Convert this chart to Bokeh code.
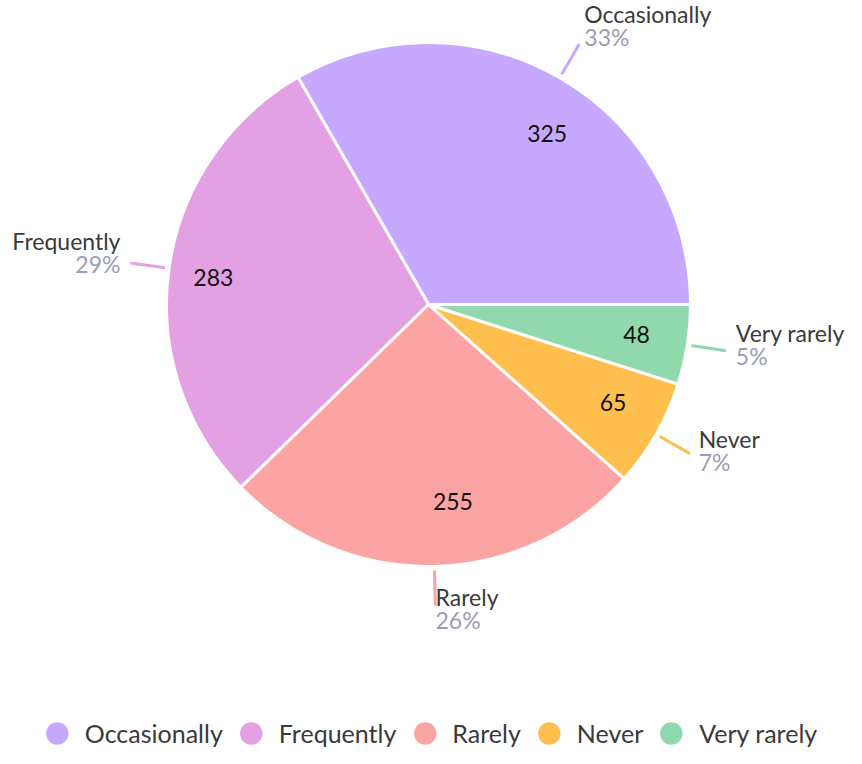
import math
from bokeh.plotting import figure
from bokeh.models import Range1d, ColumnDataSource, Legend, LegendItem
from bokeh.core.properties import value
from bokeh.embed import file_html
from bokeh.resources import INLINE

categories = ["Occasionally", "Frequently", "Rarely", "Never", "Very rarely"]
counts = [325, 283, 255, 65, 48]
colors = ["#C6A9FE", "#E3A0E3", "#FCA3A3", "#FFBF4F", "#90D9AD"]

FONT = "Lato"
NAME_COLOR = "#3a3a3a"
PCT_COLOR = "#9c9cb4"

W, H = 846, 748
p = figure(width=W, height=H, output_backend="svg", toolbar_location=None,
           x_range=Range1d(0, W), y_range=Range1d(-H, 0),
           min_border=0, outline_line_color=None)
p.axis.visible = False
p.grid.visible = False
p.background_fill_color = None
p.border_fill_color = None

cx, cy = 428, -304
R = 262

total = sum(counts)
starts, ends, mids = [], [], []
acc = 0.0
for c in counts:
    a0 = acc / total * 2 * math.pi
    acc += c
    a1 = acc / total * 2 * math.pi
    starts.append(a0)
    ends.append(a1)
    mids.append((a0 + a1) / 2)
pcts = [f"{round(c / total * 100)}%" for c in counts]

src = ColumnDataSource(dict(x=[cx] * len(counts), y=[cy] * len(counts),
                            start=starts, end=ends, color=colors))
p.wedge(x="x", y="y", radius=R, start_angle="start", end_angle="end",
        fill_color="color", line_color="white", line_width=3, source=src)

# leader lines
r0, r1 = R + 4, R + 39
p.segment(x0=[cx + r0 * math.cos(m) for m in mids], y0=[cy + r0 * math.sin(m) for m in mids],
          x1=[cx + r1 * math.cos(m) for m in mids], y1=[cy + r1 * math.sin(m) for m in mids],
          line_color=colors, line_width=3)

# outer labels
for name, pct, m in zip(categories, pcts, mids):
    ex, ey = cx + r1 * math.cos(m), cy + r1 * math.sin(m)
    c, s = math.cos(m), math.sin(m)
    tx = ex + 10 * c
    align = "left" if c >= 0 else "right"
    mid_y = ey + 8.6 + 11.6 * s
    p.text(x=[tx], y=[mid_y + 11.5], text=[name], text_font=value(FONT),
           text_font_size="23px", text_color=NAME_COLOR, text_align=align,
           text_baseline="middle")
    p.text(x=[tx], y=[mid_y - 11.5], text=[pct], text_font=value(FONT),
           text_font_size="23px", text_color=PCT_COLOR, text_align=align,
           text_baseline="middle")

# inner value labels
ri = 197
for cnt, m in zip(counts, mids):
    c = math.cos(m)
    p.text(x=[cx + ri * c], y=[cy + ri * math.sin(m)], text=[str(cnt)],
           text_font=value(FONT), text_font_size="23px", text_color="#111111",
           text_align="left" if c >= 0 else "right", text_baseline="middle")

# legend
items = []
for name, col in zip(categories, colors):
    r = p.scatter(x=[cx], y=[cy], marker="circle", size=24, fill_color=col,
                  line_color=None, visible=False)
    items.append(LegendItem(label=name, renderers=[r]))

legend = Legend(items=items, orientation="horizontal", location="bottom_center",
                glyph_width=56, glyph_height=56, label_standoff=0, spacing=0,
                padding=0, margin=-13, border_line_alpha=0, background_fill_alpha=0,
                label_text_font=FONT, label_text_font_size="25px",
                label_text_color=NAME_COLOR)
p.add_layout(legend)

open("out.html", "w").write(file_html(p, INLINE))
